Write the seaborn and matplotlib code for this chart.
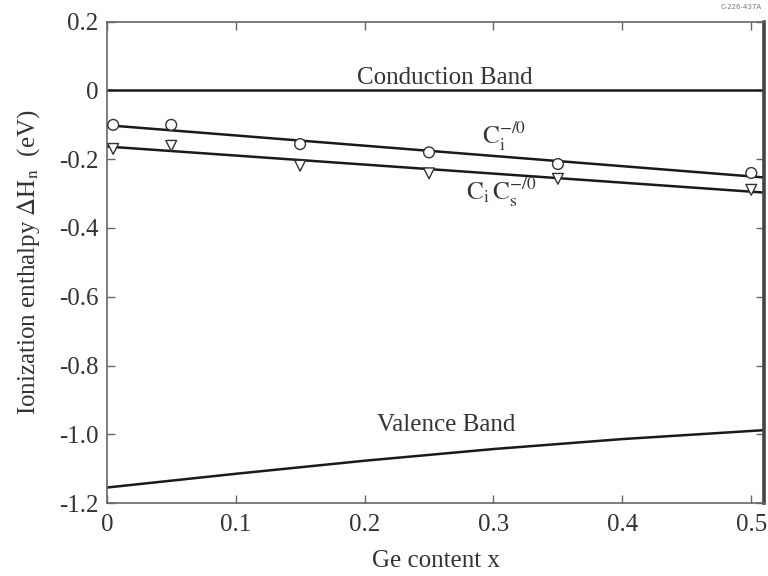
import matplotlib
matplotlib.use("Agg")
import matplotlib.pyplot as plt
import seaborn as sns
import pandas as pd

# ---- data ----
ge_x = [0.005, 0.05, 0.15, 0.25, 0.35, 0.5]
ci_vals = [-0.100, -0.100, -0.156, -0.180, -0.214, -0.240]
cics_vals = [-0.170, -0.161, -0.219, -0.241, -0.257, -0.289]

fit_x = [0.0, 0.51]
ci_fit = [-0.101, -0.253]
cics_fit = [-0.163, -0.297]

valence_x = [0.0, 0.1, 0.2, 0.3, 0.4, 0.51]
valence_y = [-1.155, -1.115, -1.077, -1.043, -1.014, -0.988]

conduction_y = 0.0

x_ticks = [0, 0.1, 0.2, 0.3, 0.4, 0.5]
x_ticklabels = ["0", "0.1", "0.2", "0.3", "0.4", "0.5"]
y_ticks = [0.2, 0, -0.2, -0.4, -0.6, -0.8, -1.0, -1.2]
y_ticklabels = ["0.2", "0", "-0.2", "-0.4", "-0.6", "-0.8", "-1.0", "-1.2"]

# ---- style ----
sns.set_theme(style="ticks")
plt.rcParams["font.family"] = ["Liberation Serif", "DejaVu Serif"]
plt.rcParams["mathtext.fontset"] = "stix"
TXT = "#333333"
LINE = "#1a1a1a"
SPINE = "#666666"

fig = plt.figure(figsize=(7.68, 5.76), dpi=100)
ax = fig.add_axes([0.139, 0.1267, 0.856, 0.8356])

pts = pd.DataFrame({"x": ge_x + ge_x,
                    "y": ci_vals + cics_vals,
                    "defect": ["Ci"] * len(ge_x) + ["CiCs"] * len(ge_x)})
fits = pd.DataFrame({"x": fit_x + fit_x,
                     "y": ci_fit + cics_fit,
                     "defect": ["Ci"] * 2 + ["CiCs"] * 2})
val = pd.DataFrame({"x": valence_x, "y": valence_y})

ax.axhline(conduction_y, color=LINE, lw=1.8, zorder=2)
sns.lineplot(data=val, x="x", y="y", color=LINE, lw=1.8, ax=ax, zorder=2)
sns.lineplot(data=fits, x="x", y="y", units="defect", estimator=None,
             color=LINE, lw=1.8, ax=ax, zorder=2)
sns.scatterplot(data=pts, x="x", y="y", style="defect",
                markers={"Ci": "o", "CiCs": "v"}, s=60,
                facecolor="white", edgecolor="#333333", linewidth=1.0,
                legend=False, ax=ax, zorder=3, clip_on=False)

ax.set_xlim(0, 0.51)
ax.set_ylim(-1.2, 0.2)
ax.set_xticks(x_ticks)
ax.set_xticklabels(x_ticklabels)
ax.set_yticks(y_ticks)
ax.set_yticklabels(y_ticklabels)
ax.tick_params(direction="in", length=6, width=1.0, color=SPINE,
               labelsize=18, labelcolor=TXT, top=True, right=True)
ax.tick_params(axis="x", pad=8)
ax.tick_params(axis="y", pad=6)

for side in ["left", "bottom", "top"]:
    ax.spines[side].set_color(SPINE)
    ax.spines[side].set_linewidth(1.2)
ax.spines["right"].set_color("#444444")
ax.spines["right"].set_linewidth(2.6)

ax.set_xlabel("Ge content x", fontsize=18, color=TXT, labelpad=10)
ax.set_ylabel(r"Ionization enthalpy $\Delta\mathrm{H_n}$  (eV)",
              fontsize=18, color=TXT, labelpad=12)

ax.text(0.262, 0.019, "Conduction Band", fontsize=18, color=TXT,
        ha="center", va="baseline")
ax.text(0.263, -0.99, "Valence Band", fontsize=18, color=TXT,
        ha="center", va="baseline")
ax.text(0.291, -0.155, r"$\mathrm{C_i^{-/0}}$", fontsize=18, color=TXT,
        ha="left", va="baseline")
ax.text(0.279, -0.318, r"$\mathrm{C_i\,C_s^{-/0}}$", fontsize=18, color=TXT,
        ha="left", va="baseline")

fig.text(0.992, 0.988, "C-226-437A", fontsize=5, color="#777777",
         ha="right", va="center", family="DejaVu Sans")

fig.savefig("out.png", dpi=100)
